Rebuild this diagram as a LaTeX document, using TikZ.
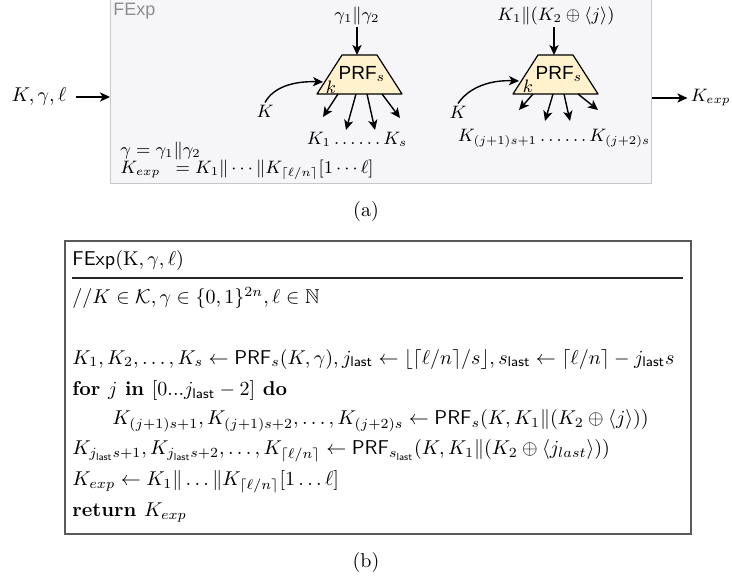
\documentclass[tikz,border=0pt]{standalone}
\usepackage{amsmath,amssymb}
\usepackage{fontspec}
\newfontfamily\drawfont{Liberation Sans}
\usetikzlibrary{arrows.meta}
\definecolor{boxfill}{HTML}{F6F5F8}
\definecolor{boxline}{HTML}{C8C8C8}
\definecolor{labelgray}{HTML}{8E8E8E}
\definecolor{trapyellow}{HTML}{FFF2CC}
\definecolor{alglinecol}{HTML}{5A5A5A}
\tikzset{
  arr/.style={-{Stealth[length=5pt,width=4.6pt,inset=1.3pt]}, line width=0.7pt},
  trapbox/.style={draw, fill=trapyellow, line width=0.6pt, line join=round},
  lbl/.style={inner sep=1pt, font=\fontsize{9}{10.8}\selectfont},
  algline/.style={anchor=west, inner sep=0pt},
  prf/.style={inner sep=0pt, font=\drawfont\fontsize{9.5}{11}\selectfont},
}
\begin{document}
\begin{tikzpicture}[x=0.5pt,y=-0.5pt]
\useasboundingbox (0,0) rectangle (732,582);

% ---------- (a) ----------
\node[draw=boxline, fill=boxfill, line width=0.6pt, minimum width=270.5pt, minimum height=93pt,
      inner sep=0pt, anchor=north west] (fexp) at (110,-3) {};
\node[anchor=north west, inner sep=0pt, text=labelgray, font=\drawfont\fontsize{9}{11}\selectfont] (flabel) at (113,3) {FExp};

\node[inner sep=1pt] (inp) at (39,97) {$K,\gamma,\ell$};
\coordinate (inps) at (76,97);
\draw[arr] (inps) -- (inps -| fexp.west);
\node[lbl, inner sep=0pt, anchor=east] (kout) at (731,98) {$K_{exp}$};
\draw[arr] (kout.west -| fexp.east) -- ([xshift=-1.5pt]kout.west);

% first PRF
\draw[trapbox] (342,55) -- (377,55) -- (402,94) -- (317,94) -- cycle;
\node[prf] (prf1) at (362,74) {PRF$_s$};
\node[lbl, inner sep=0pt] (k1) at (331,87) {$k$};
\node[lbl] (g12) at (357,16) {$\gamma_1\|\gamma_2$};
\coordinate (t1) at (357,55);
\draw[arr] (g12) -- (t1);
\node[lbl] (K1in) at (265,111) {$K$};
\coordinate (k1e) at (323,82);
\draw[arr] (K1in.north) .. controls (274,86) and (296,81) .. (k1e);
\coordinate (a1s) at (338,94); \coordinate (a1e) at (323,117);
\coordinate (b1s) at (356,94); \coordinate (b1e) at (346,130);
\coordinate (c1s) at (367,94); \coordinate (c1e) at (375,130);
\coordinate (d1s) at (382,94); \coordinate (d1e) at (400,118);
\draw[arr] (a1s) -- (a1e);
\draw[arr] (b1s) -- (b1e);
\draw[arr] (c1s) -- (c1e);
\draw[arr] (d1s) -- (d1e);
\node[lbl] (out1) at (357,139) {$K_1\ldots\ldots K_s$};

% second PRF
\draw[trapbox] (538,55) -- (573,55) -- (598,94) -- (513,94) -- cycle;
\node[prf] (prf2) at (559,74) {PRF$_s$};
\node[lbl, inner sep=0pt] (k2) at (528,86) {$k$};
\node[lbl] (g2) at (556,16) {$K_1\|(K_2\oplus\langle j\rangle)$};
\coordinate (t2) at (554,55);
\draw[arr] (g2.south -| t2) -- (t2);
\node[lbl] (K2in) at (458,112) {$K$};
\coordinate (k2e) at (519,81);
\draw[arr] (K2in.north) .. controls (470,86) and (492,80) .. (k2e);
\coordinate (a2s) at (533,94); \coordinate (a2e) at (519,110);
\coordinate (b2s) at (553,94); \coordinate (b2e) at (545,121);
\coordinate (c2s) at (564,94); \coordinate (c2e) at (570,121);
\coordinate (d2s) at (578,94); \coordinate (d2e) at (598,110);
\draw[arr] (a2s) -- (a2e);
\draw[arr] (b2s) -- (b2e);
\draw[arr] (c2s) -- (c2e);
\draw[arr] (d2s) -- (d2e);
\node[lbl] (out2) at (554,138) {$K_{(j+1)s+1}\ldots\ldots K_{(j+2)s}$};

\node[lbl, anchor=west] (geq) at (118,151) {$\gamma=\gamma_1\|\gamma_2$};
\node[lbl, anchor=west] (kexpeq) at (118,170) {$K_{exp}\;\;=K_1\|\cdots\|K_{\lceil\ell/n\rceil}[1\cdots\ell]$};

\node[inner sep=1pt] (capa) at (366,212) {(a)};

% ---------- (b) ----------
\node[draw=alglinecol, line width=0.8pt, minimum width=313pt, minimum height=146.5pt,
      inner sep=0pt, anchor=north west] (alg) at (64,240) {};
\coordinate (sepl) at (72,278);
\coordinate (sepr) at (683,278);
\draw[line width=0.6pt, black!85] (sepl) -- (sepr);

\node[algline] (l0) at (72,261) {$\mathsf{FExp}(\mathrm{K},\gamma,\ell)$};
\node[algline] (l1) at (72,298) {$//K\in\mathcal{K},\gamma\in\{0,1\}^{2n},\ell\in\mathbb{N}$};
\node[algline] (l2) at (72,359) {$K_1,K_2,\ldots,K_s\leftarrow\mathsf{PRF}_s(K,\gamma),j_{\mathsf{last}}\leftarrow\lfloor\lceil\ell/n\rceil/s\rfloor,s_{\mathsf{last}}\leftarrow\lceil\ell/n\rceil-j_{\mathsf{last}}s$};
\node[algline] (l3) at (72,390) {$\textbf{for }j\textbf{ in }[0...j_{\mathsf{last}}-2]\textbf{ do}$};
\node[algline] (l4) at (112,421) {$K_{(j+1)s+1},K_{(j+1)s+2},\ldots,K_{(j+2)s}\leftarrow\mathsf{PRF}_s(K,K_1\|(K_2\oplus\langle j\rangle))$};
\node[algline] (l5) at (72,451) {$K_{j_{\mathsf{last}}s+1},K_{j_{\mathsf{last}}s+2},\ldots,K_{\lceil\ell/n\rceil}\leftarrow\mathsf{PRF}_{s_{\mathsf{last}}}(K,K_1\|(K_2\oplus\langle j_{last}\rangle))$};
\node[algline] (l6) at (72,482) {$K_{exp}\leftarrow K_1\|\ldots\|K_{\lceil\ell/n\rceil}[1\ldots\ell]$};
\node[algline] (l7) at (72,513) {$\textbf{return }K_{exp}$};

\node[inner sep=1pt] (capb) at (366,562) {(b)};
\end{tikzpicture}
\end{document}
